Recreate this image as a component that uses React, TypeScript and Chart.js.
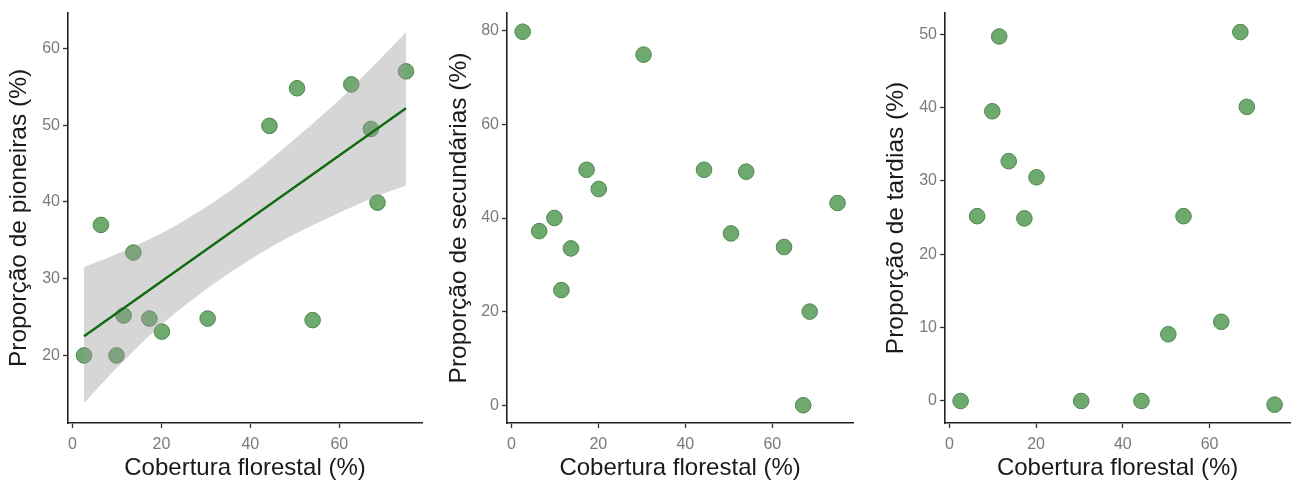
import React, { useEffect, useRef } from "react";
import { Chart, registerables } from "chart.js";

Chart.register(...registerables);

// ---- Data ----
const coverage = [2.6, 6.4, 9.9, 11.5, 13.7, 17.3, 20.1, 30.4, 44.3, 50.5, 54.0, 62.7, 67.1, 68.6, 75.0];
const pioneiras = [20.0, 37.0, 20.0, 25.2, 33.4, 24.8, 23.1, 24.8, 49.9, 54.8, 24.6, 55.3, 49.5, 39.9, 57.0];
const secundarias = [79.8, 37.2, 40.0, 24.6, 33.5, 50.3, 46.2, 74.9, 50.3, 36.7, 49.9, 33.8, 0.0, 20.0, 43.2];
const tardias = [0.0, 25.2, 39.5, 49.7, 32.7, 24.9, 30.5, 0.0, 0.0, 9.1, 25.2, 10.8, 50.3, 40.1, -0.5];

// regression line and confidence band for pioneiras
const fitX = [2.6, 75.0];
const fitY = [22.5, 52.2];
const bandX = [2.6, 10, 20, 30, 40, 50, 60, 70, 75];
const bandUpper = [31.5, 33.2, 35.9, 39.3, 43.4, 48.2, 53.3, 59.1, 62.1];
const bandLower = [13.8, 18.4, 24.0, 28.6, 32.5, 35.8, 38.6, 41.1, 42.1];

const xTicks = [0, 20, 40, 60];
const yTicksPioneiras = [20, 30, 40, 50, 60];
const yTicksSecundarias = [0, 20, 40, 60, 80];
const yTicksTardias = [0, 10, 20, 30, 40, 50];

const xTitle = "Cobertura florestal (%)";
const FONT = "'Liberation Sans', Arial, sans-serif";
const POINT_FILL = "rgb(110,170,110)";
const POINT_BORDER = "rgb(80,134,80)";

type PanelProps = {
  left: number;
  width: number;
  yWidth: number;
  padRight: number;
  ys: number[];
  yMin: number;
  yMax: number;
  yTicks: number[];
  yTitle: string;
  yTitlePad: number;
  withFit?: boolean;
};

function Panel(p: PanelProps) {
  const ref = useRef<HTMLCanvasElement | null>(null);
  useEffect(() => {
    if (!ref.current) return;
    const pts = coverage.map((x, i) => ({ x, y: p.ys[i] }));
    const datasets: any[] = [];
    if (p.withFit) {
      datasets.push({
        type: "line",
        data: fitX.map((x, i) => ({ x, y: fitY[i] })),
        borderColor: "#0d6a0d",
        borderWidth: 2.3,
        pointRadius: 0,
        fill: false,
        tension: 0,
      });
      datasets.push({
        type: "line",
        data: bandX.map((x, i) => ({ x, y: bandUpper[i] })),
        borderWidth: 0,
        borderColor: "rgba(0,0,0,0)",
        pointRadius: 0,
        fill: false,
        tension: 0.3,
      });
      datasets.push({
        type: "line",
        data: bandX.map((x, i) => ({ x, y: bandLower[i] })),
        borderWidth: 0,
        borderColor: "rgba(0,0,0,0)",
        backgroundColor: "rgba(153,153,153,0.4)",
        pointRadius: 0,
        fill: "-1",
        tension: 0.3,
      });
    }
    datasets.push({
      type: "scatter",
      data: pts,
      backgroundColor: POINT_FILL,
      borderColor: POINT_BORDER,
      borderWidth: 1,
      pointRadius: 7.8,
    });

    const chart = new Chart(ref.current, {
      type: "scatter",
      data: { datasets },
      options: {
        animation: false,
        responsive: false,
        maintainAspectRatio: false,
        layout: { padding: { left: 0, right: p.padRight, top: 13, bottom: 0 } },
        plugins: { legend: { display: false }, tooltip: { enabled: false } },
        scales: {
          x: {
            type: "linear",
            min: -1.0,
            max: 78.6,
            afterBuildTicks: (s: any) => {
              s.ticks = xTicks.map((v) => ({ value: v }));
            },
            afterFit: (s: any) => {
              s.height = 61;
            },
            grid: { drawOnChartArea: false, drawTicks: true, tickLength: 5, tickColor: "#333", tickWidth: 1.3 },
            border: { display: true, color: "#222", width: 1.6 },
            ticks: { color: "#7a7a7a", font: { size: 16, family: FONT }, padding: 7, maxRotation: 0, autoSkip: false },
            title: { display: true, text: xTitle, color: "#1a1a1a", font: { size: 24, family: FONT }, padding: { top: 0, bottom: 1 } },
          },
          y: {
            type: "linear",
            min: p.yMin,
            max: p.yMax,
            afterBuildTicks: (s: any) => {
              s.ticks = p.yTicks.map((v) => ({ value: v }));
            },
            afterFit: (s: any) => {
              s.width = p.yWidth;
            },
            grid: { drawOnChartArea: false, drawTicks: true, tickLength: 5, tickColor: "#333", tickWidth: 1.3 },
            border: { display: true, color: "#222", width: 1.6 },
            ticks: { color: "#7a7a7a", font: { size: 16, family: FONT }, padding: 3, autoSkip: false },
            title: { display: true, text: p.yTitle, color: "#1a1a1a", font: { size: 24.5, family: FONT }, padding: { top: p.yTitlePad, bottom: 0 } },
          },
        },
      } as any,
    });
    return () => chart.destroy();
  }, []);
  return (
    <canvas
      ref={ref}
      width={p.width}
      height={484}
      style={{ position: "absolute", left: p.left, top: 0, width: p.width, height: 484 }}
    />
  );
}

export default function App() {
  return (
    <div style={{ position: "absolute", left: 0, top: 0, width: 1293, height: 484, overflow: "hidden", background: "#fff" }}>
      <Panel left={0} width={431} yWidth={68} padRight={9} ys={pioneiras} yMin={11.2} yMax={64.6} yTicks={yTicksPioneiras} yTitle="Proporção de pioneiras (%)" yTitlePad={5} withFit />
      <Panel left={431} width={431} yWidth={76} padRight={2} ys={secundarias} yMin={-3.8} yMax={83.8} yTicks={yTicksSecundarias} yTitle="Proporção de secundárias (%)" yTitlePad={14} />
      <Panel left={862} width={437} yWidth={83} padRight={0} ys={tardias} yMin={-3.0} yMax={52.9} yTicks={yTicksTardias} yTitle="Proporção de tardias (%)" yTitlePad={20} />
    </div>
  );
}
